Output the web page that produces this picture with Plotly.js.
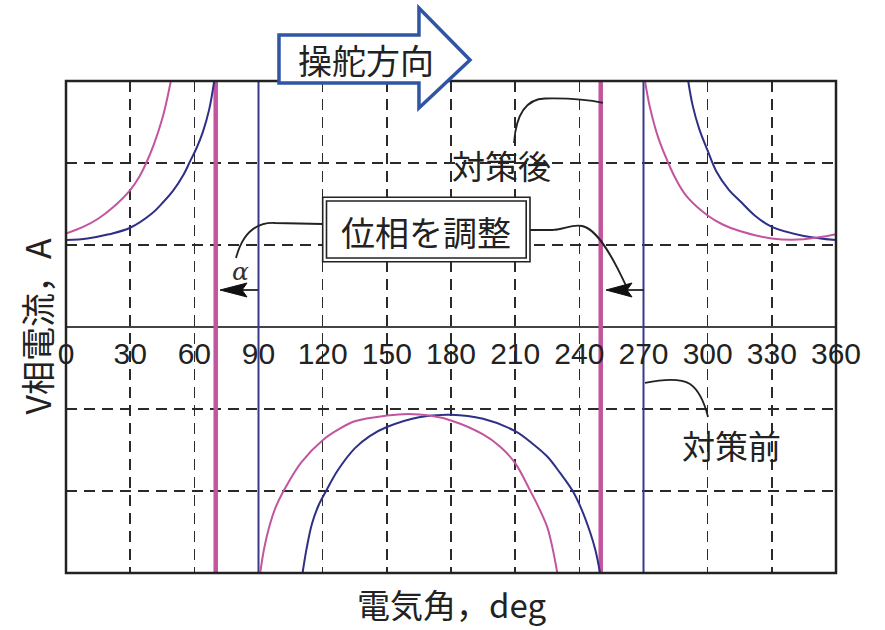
<!DOCTYPE html>
<html>
<head>
<meta charset="utf-8">
<script src="https://cdn.plot.ly/plotly-3.0.1.min.js"></script>
<style>
  html, body { margin: 0; padding: 0; background: #fff; }
  #chart { width: 885px; height: 630px; }
</style>
</head>
<body>
<div id="chart"></div>
<script>
// V-phase current vs electrical angle, before (navy) and after (magenta) the phase fix
// values, null = break at the jump
const angleBefore = [0, 10, 20, 30, 40, 45, 50, 55, 58, 61, 64, 67, 69.3, null,
    110.6, 112.5, 115, 118, 121.6, 127, 135, 142, 150, 165, 180, 195, 210, 218, 225, 231, 236.9, 241, 245, 247.5, 249.7, null,
    290.9, 293, 296, 300, 304, 310, 315, 322, 330, 345, 360];
const currentBefore = [1.06, 1.08, 1.13, 1.21, 1.38, 1.51, 1.66, 1.86, 2.02, 2.18, 2.38, 2.66, 3.0, null,
    -3.0, -2.7, -2.4, -2.18, -2.0, -1.75, -1.48, -1.33, -1.22, -1.10, -1.07, -1.12, -1.27, -1.42, -1.58, -1.78, -2.0, -2.22, -2.5, -2.72, -3.0, null,
    3.0, 2.7, 2.42, 2.15, 1.9, 1.67, 1.54, 1.36, 1.22, 1.11, 1.06];

const angleAfter = [0, 8, 15, 22, 30, 34, 37.5, 41, 45, 47, 49, null,
    90.8, 92.5, 95, 98, 101.7, 110, 120, 128, 135, 150, 160, 170, 180, 195, 203, 210, 217.1, 221, 225, 227.5, 229.7, null,
    270.7, 273, 277, 281.6, 285, 290, 300, 307, 315, 330, 345, 360];
const currentAfter = [1.14, 1.22, 1.32, 1.46, 1.67, 1.82, 2.0, 2.22, 2.54, 2.75, 3.0, null,
    -3.0, -2.72, -2.44, -2.2, -2.0, -1.65, -1.38, -1.24, -1.15, -1.08, -1.06, -1.08, -1.14, -1.31, -1.46, -1.66, -2.0, -2.2, -2.44, -2.7, -3.0, null,
    3.0, 2.68, 2.3, 2.0, 1.81, 1.6, 1.36, 1.25, 1.17, 1.08, 1.07, 1.13];

// angles where the current flips sign
const jumpBefore = [90, 270];
const jumpAfter = [70, 250];

const yRange = [-3, 3];

const navy = '#2e2f86';
const magenta = '#c2559d';
const ink = '#222';
const jpFont = '"Noto Sans CJK JP", "Noto Sans", sans-serif';

// plot area in page pixels, used to place the callouts
const L = 66, R = 836, T = 81, B = 573;
const px = x => (x - L) / (R - L);
const py = y => (B - y) / (B - T);

function path(cmds) {
    return cmds.map(c => {
        let s = c[0];
        for (let i = 1; i < c.length; i += 2) {
            s += (i > 1 ? ' ' : '') + px(c[i]).toFixed(4) + ',' + py(c[i + 1]).toFixed(4);
        }
        return s;
    }).join(' ');
}

function jumpTrace(jumps, color, width) {
    const x = [], y = [];
    jumps.forEach(a => { x.push(a, a, null); y.push(yRange[0], yRange[1], null); });
    return { x: x, y: y, mode: 'lines', line: { color: color, width: width }, hoverinfo: 'skip' };
}

const traces = [
    jumpTrace(jumpBefore, '#3b3a8a', 2),
    jumpTrace(jumpAfter, magenta, 4.5),
    { x: angleBefore, y: currentBefore, mode: 'lines', line: { color: navy, width: 2, shape: 'spline', smoothing: 1 } },
    { x: angleAfter, y: currentAfter, mode: 'lines', line: { color: magenta, width: 2, shape: 'spline', smoothing: 1 } }
];

function shape(cmds, opts) {
    return Object.assign({ type: 'path', xref: 'paper', yref: 'paper', path: path(cmds),
        line: { color: ink, width: 1.8 } }, opts || {});
}
function rect(x0, y0, x1, y1, w) {
    return { type: 'rect', xref: 'paper', yref: 'paper', x0: px(x0), x1: px(x1), y0: py(y1), y1: py(y0),
        line: { color: ink, width: w }, fillcolor: 'rgba(0,0,0,0)' };
}
function label(text, x, y, size, extra) {
    return Object.assign({ text: text, xref: 'paper', yref: 'paper', x: px(x), y: py(y),
        xanchor: 'center', yanchor: 'middle', showarrow: false,
        font: { family: jpFont, size: size, color: ink } }, extra || {});
}

const shapes = [
    // frame
    { type: 'rect', xref: 'paper', yref: 'paper', x0: 0, x1: 1, y0: 0, y1: 1, line: { color: '#222', width: 2.5 } },
    // steering direction arrow
    shape([['M', 279, 35], ['L', 419, 35], ['L', 419, 8], ['L', 470, 60], ['L', 419, 108], ['L', 419, 83], ['L', 279, 83], ['Z']],
        { line: { color: '#2f55a4', width: 3.5 }, fillcolor: '#fff' }),
    // phase adjust box (double frame)
    Object.assign(rect(322.7, 197.3, 530, 261.7, 1.6), { fillcolor: '#fff' }),
    rect(326.5, 201, 526.2, 258, 1.6),
    // leaders
    shape([['M', 322.7, 224], ['L', 275, 223], ['C', 255, 222, 242, 235, 236, 258]]),
    shape([['M', 530, 230], ['L', 553, 230], ['C', 565, 229, 572, 224, 582, 226], ['C', 597, 229, 612, 255, 627, 288]]),
    shape([['M', 514, 143], ['C', 516, 115, 525, 99, 545, 98.5], ['C', 570, 98, 590, 100, 603, 103]]),
    shape([['M', 645, 383], ['C', 660, 380, 680, 378, 690, 384], ['C', 700, 391, 705, 405, 708, 417]]),
    // phase shift arrows 90 -> 70 and 270 -> 250
    shape([['M', 258, 290], ['L', 242, 290]]),
    shape([['M', 220, 290], ['L', 247, 283], ['L', 242, 290], ['L', 247, 297], ['Z']], { fillcolor: '#111', line: { color: '#111', width: 1 } }),
    shape([['M', 644, 290], ['L', 627, 290]]),
    shape([['M', 606, 290], ['L', 632, 283], ['L', 627, 290], ['L', 632, 297], ['Z']], { fillcolor: '#111', line: { color: '#111', width: 1 } })
];

const annotations = [
    label('操舵方向', 366, 59, 34),
    label('位相を調整', 425.5, 231, 34),
    label('対策後', 501, 165, 33),
    label('対策前', 731, 445, 33),
    label('<i>α</i>', 240, 271, 27, { font: { family: '"DejaVu Serif", serif', size: 25, color: '#333' } }),
    label('電気角，deg', 451, 604, 33),
    label('V相電流，A', 36, 326.5, 34, { textangle: -90 })
];

const layout = {
    width: 885,
    height: 630,
    margin: { l: L, r: 885 - R, t: T, b: 630 - B },
    paper_bgcolor: '#fff',
    plot_bgcolor: '#fff',
    showlegend: false,
    hovermode: false,
    xaxis: {
        range: [0, 360],
        tick0: 0,
        dtick: 30,
        anchor: 'free',
        position: 0.5,
        showline: false,
        ticks: '',
        ticklabelstandoff: 6,
        tickfont: { family: '"Liberation Sans", Arial, sans-serif', size: 30, color: ink },
        showgrid: true,
        gridcolor: '#2a2a2a',
        gridwidth: 1.6,
        griddash: '11px,7px',
        zeroline: false
    },
    yaxis: {
        range: yRange,
        dtick: 1,
        showticklabels: false,
        ticks: '',
        showgrid: true,
        gridcolor: '#2a2a2a',
        gridwidth: 1.6,
        griddash: '11px,7px',
        zeroline: true,
        zerolinecolor: '#444',
        zerolinewidth: 1.5
    },
    shapes: shapes,
    annotations: annotations
};

Plotly.newPlot('chart', traces, layout, { staticPlot: true, displayModeBar: false });
</script>
</body>
</html>
